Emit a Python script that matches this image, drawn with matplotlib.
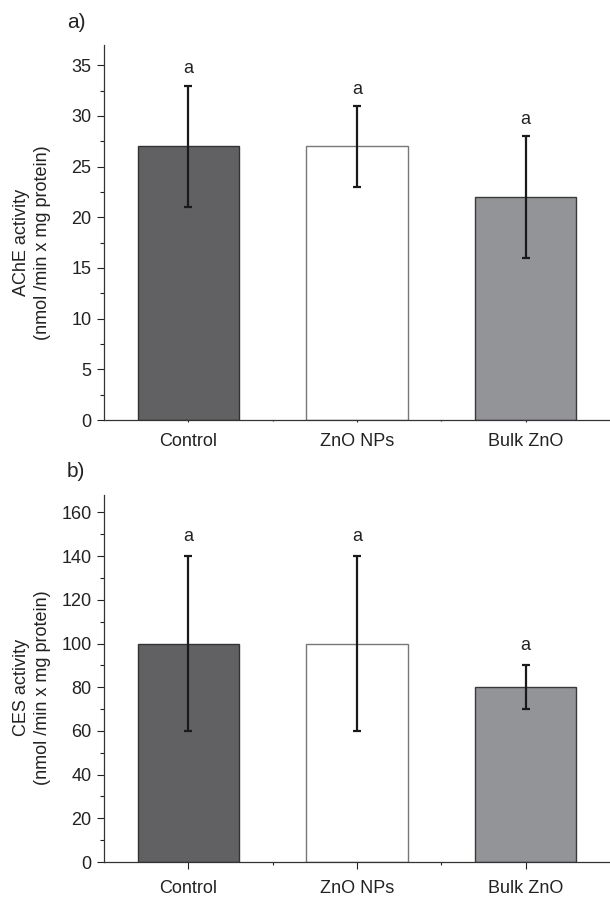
import matplotlib
matplotlib.use('Agg')
import matplotlib.pyplot as plt
from matplotlib.ticker import MultipleLocator

plt.rcParams['font.family'] = ['Liberation Sans', 'DejaVu Sans']

# Data
groups = ['Control', 'ZnO NPs', 'Bulk ZnO']
ache_mean = [27, 27, 22]
ache_err = [6, 4, 6]
ces_mean = [100, 100, 80]
ces_err = [40, 40, 10]
letters = ['a', 'a', 'a']

fills = ['#616163', '#ffffff', '#939498']
edges = ['#333333', '#777777', '#3a3a3a']

fig = plt.figure(figsize=(6.10, 8.97), dpi=100)
ax1 = fig.add_axes([104/610, 1 - 420/897, 1 - 104/610, 375/897])
ax2 = fig.add_axes([104/610, 1 - 862/897, 1 - 104/610, 367/897])

x = [1, 2, 3]


def panel(ax, mean, err, ymax, major, minor, ylab, letter_off, xtick_len):
    ax.bar(x, mean, width=0.6, color=fills, edgecolor=edges, linewidth=1.0,
           zorder=2)
    ax.errorbar(x, mean, yerr=err, fmt='none', ecolor='#1a1a1a',
                elinewidth=1.6, capsize=2.9, capthick=1.6, zorder=3)
    for xi, m, e, t in zip(x, mean, err, letters):
        ax.annotate(t, (xi, m + e), xytext=(0, letter_off),
                    textcoords='offset points', ha='center', va='center',
                    fontsize=13, color='#222222')
    ax.set_xlim(0.5, 3.5)
    ax.set_ylim(0, ymax)
    ax.yaxis.set_major_locator(MultipleLocator(major))
    ax.yaxis.set_minor_locator(MultipleLocator(minor))
    ax.set_xticks(x)
    ax.set_xticks([1.5, 2.5], minor=True)
    ax.set_xticklabels(groups)
    ax.tick_params(axis='y', which='major', length=5, width=0.8, pad=4,
                   labelsize=13, colors='#222222')
    ax.tick_params(axis='y', which='minor', length=3, width=0.8,
                   colors='#222222')
    ax.tick_params(axis='x', which='major', length=xtick_len, width=0.8,
                   pad=8, labelsize=13, colors='#222222')
    ax.tick_params(axis='x', which='minor', length=xtick_len * 0.5,
                   width=0.8, colors='#222222')
    for s in ['top', 'right']:
        ax.spines[s].set_visible(False)
    for s in ['left', 'bottom']:
        ax.spines[s].set_linewidth(0.9)
        ax.spines[s].set_color('#333333')
    ax.set_ylabel(ylab, fontsize=13, color='#222222', linespacing=1.3)


panel(ax1, ache_mean, ache_err, 37, 5, 2.5,
      'AChE activity\n(nmol /min x mg protein)', 12, 1.5)
panel(ax2, ces_mean, ces_err, 168, 20, 10,
      'CES activity\n(nmol /min x mg protein)', 14, 5)

ax1.yaxis.set_label_coords(-0.105, 17.5 / 37)
ax2.yaxis.set_label_coords(-0.105, 80 / 168)

fig.text(67/610, 1 - 22/897, 'a)', fontsize=15, ha='left', va='center',
         color='#222222')
fig.text(67/610, 1 - 471/897, 'b)', fontsize=15, ha='left', va='center',
         color='#222222')

plt.savefig('out.png', dpi=100)
